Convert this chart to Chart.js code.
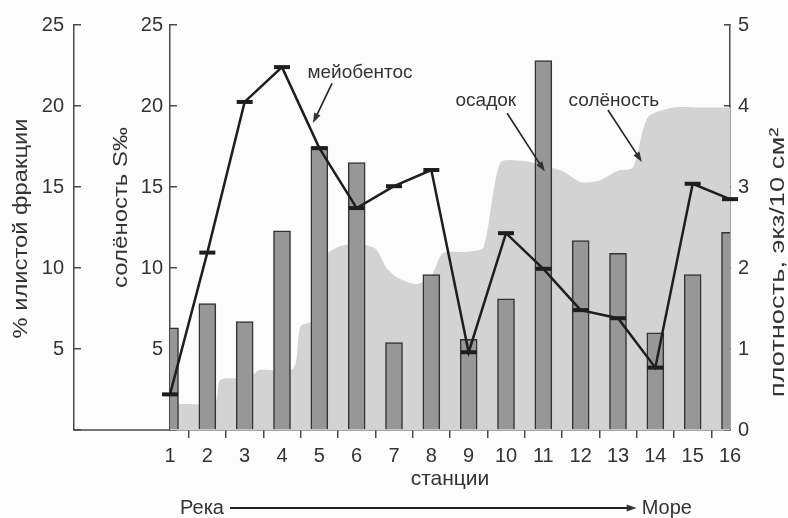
<!DOCTYPE html>
<html>
<head>
<meta charset="utf-8">
<script src="https://cdn.jsdelivr.net/npm/chart.js@4.4.1/dist/chart.umd.min.js"></script>
<style>
  html, body { margin: 0; padding: 0; background: #fcfcfc; }
  #wrap { width: 788px; height: 518px; }
</style>
</head>
<body>
<div id="wrap"><canvas id="c" width="788" height="518"></canvas></div>
<script>
// Станции по профилю река → море
const stations = [1, 2, 3, 4, 5, 6, 7, 8, 9, 10, 11, 12, 13, 14, 15, 16];
// Доля илистой фракции в осадке, %
const siltPercent = [6.3, 7.8, 6.7, 12.3, 17.5, 16.5, 5.4, 9.6, 5.6, 8.1, 22.8, 11.7, 10.9, 6.0, 9.6, 12.2];
// Плотность мейобентоса, экз/10 см²
const meiobenthos = [0.44, 2.19, 4.05, 4.48, 3.48, 2.74, 3.01, 3.21, 0.96, 2.43, 1.99, 1.48, 1.38, 0.77, 3.04, 2.85];
// Профиль солёности (положение вдоль разреза и S‰)
const salinityAt = [1.0, 1.3, 2.2, 2.35, 3.1, 3.4, 4.3, 4.5, 4.9, 5.05, 5.5, 6.0, 6.5, 6.8, 7.1, 7.6, 8.0, 8.3, 9.0, 9.4, 9.85, 10.5, 11.0, 11.5, 12.0, 12.5, 13.0, 13.4, 13.8, 14.5, 15.2, 16.0];
const salinity   = [1.5, 1.6, 1.7, 3.1, 3.2, 3.7, 3.8, 6.4, 6.8, 10.5, 11.3, 11.5, 11.2, 10.0, 9.4, 9.0, 9.5, 10.9, 11.0, 11.3, 16.5, 16.6, 16.3, 16.0, 15.3, 15.4, 16.0, 16.2, 19.3, 19.9, 19.9, 19.9];
// Деления осей
const leftTicks = [0, 5, 10, 15, 20, 25];
const densityTicks = [0, 1, 2, 3, 4, 5];

const ink = '#333333';
const axisInk = '#4a4a4a';
const FONT = 'Liberation Sans, Arial, sans-serif';
const xTickFont = { family: FONT, size: 20 };
const yTickFont = { family: FONT, size: 20, lineHeight: 0.8 };
const titleFont = { family: FONT, size: 21 };
const noteFont = '19px ' + FONT;

Chart.defaults.font.family = FONT;
Chart.defaults.color = ink;

function xy(xs, ys) { return xs.map((x, i) => ({ x: x, y: ys[i] })); }
function setTicks(values) { return s => { s.ticks = values.map(v => ({ value: v })); }; }

function arrow(ctx, x1, y1, x2, y2) {
  const a = Math.atan2(y2 - y1, x2 - x1);
  ctx.beginPath();
  ctx.moveTo(x1, y1);
  ctx.lineTo(x2 - 6 * Math.cos(a), y2 - 6 * Math.sin(a));
  ctx.stroke();
  ctx.beginPath();
  ctx.moveTo(x2, y2);
  ctx.lineTo(x2 - 10 * Math.cos(a) + 3.5 * Math.sin(a), y2 - 10 * Math.sin(a) - 3.5 * Math.cos(a));
  ctx.lineTo(x2 - 10 * Math.cos(a) - 3.5 * Math.sin(a), y2 - 10 * Math.sin(a) + 3.5 * Math.cos(a));
  ctx.closePath();
  ctx.fill();
}

// Вертикальная подпись оси (читается снизу вверх), слегка растянутая по длине
function verticalTitle(ctx, text, cx, cy, stretch) {
  ctx.save();
  ctx.fillStyle = ink;
  ctx.font = titleFont.size + 'px ' + FONT;
  ctx.textAlign = 'center';
  ctx.textBaseline = 'middle';
  ctx.translate(cx, cy);
  ctx.rotate(-Math.PI / 2);
  ctx.scale(stretch, 1);
  ctx.fillText(text, 0, 0);
  ctx.restore();
}

// Подписи серий со стрелками (в единицах оси станций и оси плотности)
const notes = [
  { text: 'мейобентос', at: [6.09, 4.41], from: [5.34, 4.28], to: [4.83, 3.79] },
  { text: 'осадок',     at: [9.46, 4.07], from: [10.03, 3.91], to: [11.04, 3.19] },
  { text: 'солёность',  at: [12.89, 4.07], from: [12.73, 3.95], to: [13.64, 3.31] }
];

const decor = {
  id: 'decor',
  beforeDraw(chart) {
    const ctx = chart.ctx;
    ctx.save();
    ctx.fillStyle = '#fcfcfc';
    ctx.fillRect(0, 0, chart.width, chart.height);
    ctx.restore();
  },
  afterDraw(chart) {
    const { ctx, scales } = chart;
    const x = scales.x, y1 = scales.y1, y2 = scales.y2, yD = scales.y3;
    const mid = (yD.top + yD.bottom) / 2;
    ctx.save();
    // базовая линия под левыми осями
    ctx.strokeStyle = axisInk;
    ctx.lineWidth = 1.5;
    ctx.beginPath();
    ctx.moveTo(y1.right, x.top);
    ctx.lineTo(chart.chartArea.left, x.top);
    ctx.stroke();
    ctx.restore();

    // заголовки осей
    verticalTitle(ctx, '% илистой фракции', y1.left + 21, mid + 1, 1.13);
    verticalTitle(ctx, 'солёность S‰', y2.left + 47, mid - 20, 1.14);
    verticalTitle(ctx, 'плотность, экз/10 см²', yD.left + 48, mid + 35, 1.3);

    // подписи серий
    ctx.save();
    ctx.fillStyle = ink;
    ctx.strokeStyle = '#222';
    ctx.lineWidth = 1.6;
    ctx.font = noteFont;
    ctx.textAlign = 'center';
    ctx.textBaseline = 'middle';
    notes.forEach(n => {
      ctx.fillText(n.text, x.getPixelForValue(n.at[0]), yD.getPixelForValue(n.at[1]));
      arrow(ctx, x.getPixelForValue(n.from[0]), yD.getPixelForValue(n.from[1]),
                 x.getPixelForValue(n.to[0]), yD.getPixelForValue(n.to[1]));
    });

    // направление река → море
    const yArrow = chart.height - 10;
    ctx.font = '20px ' + FONT;
    ctx.textAlign = 'left';
    const rLeft = x.getPixelForValue(1.27);
    ctx.fillText('Река', rLeft, yArrow);
    const startX = rLeft + ctx.measureText('Река').width + 6;
    const endX = x.getPixelForValue(13.5);
    ctx.lineWidth = 2;
    arrow(ctx, startX, yArrow, endX, yArrow);
    ctx.fillText('Море', endX + 5, yArrow);
    ctx.restore();
  }
};

new Chart(document.getElementById('c'), {
  type: 'bar',
  data: {
    datasets: [
      {
        type: 'line',
        label: 'мейобентос',
        data: xy(stations, meiobenthos),
        xAxisID: 'x', yAxisID: 'y3',
        borderColor: '#1e1e1e',
        borderWidth: 2.5,
        pointStyle: 'line',
        pointRadius: 8,
        pointBorderWidth: 4,
        pointBorderColor: '#1e1e1e',
        pointBackgroundColor: '#1e1e1e',
        tension: 0,
        clip: false,
        order: 1
      },
      {
        type: 'bar',
        label: 'осадок',
        data: xy(stations, siltPercent),
        xAxisID: 'x', yAxisID: 'y1',
        backgroundColor: '#979797',
        borderColor: '#333333',
        borderWidth: 1.5,
        barThickness: 17,
        clip: 0,
        order: 2
      },
      {
        type: 'line',
        label: 'солёность',
        data: xy(salinityAt, salinity),
        xAxisID: 'x', yAxisID: 'y2',
        backgroundColor: '#d3d3d3',
        borderWidth: 0,
        borderColor: 'rgba(0,0,0,0)',
        pointRadius: 0,
        fill: 'origin',
        tension: 0.25,
        clip: 0,
        order: 3
      }
    ]
  },
  options: {
    responsive: false,
    animation: false,
    devicePixelRatio: 1,
    layout: { padding: { top: 25, bottom: 26, left: 0, right: 0 } },
    plugins: { legend: { display: false }, tooltip: { enabled: false } },
    scales: {
      x: {
        type: 'linear', position: 'bottom', min: 1, max: 16, offset: false,
        afterBuildTicks: setTicks(stations),
        border: { display: true, color: axisInk, width: 1.5 },
        grid: { display: true, drawOnChartArea: false, drawTicks: true, tickLength: 8, color: axisInk, lineWidth: 1.5 },
        ticks: { font: xTickFont, color: ink, padding: 6, autoSkip: false, maxRotation: 0 },
        title: { display: true, text: 'станции', font: titleFont, color: ink, padding: { top: 0, bottom: 0 } },
        afterFit: s => { s.height = 62; }
      },
      y1: {
        type: 'linear', position: 'left', weight: 2, min: 0, max: 25,
        afterBuildTicks: setTicks(leftTicks),
        border: { display: true, color: axisInk, width: 1.5 },
        grid: { display: true, drawOnChartArea: false, drawTicks: true, tickLength: -7, color: axisInk, lineWidth: 1.5 },
        ticks: { font: yTickFont, color: ink, padding: 17, callback: v => (v === 0 ? '' : v) },
        title: { display: false },
        afterFit: s => { s.width = 74; }
      },
      y2: {
        type: 'linear', position: 'left', weight: 1, min: 0, max: 25,
        afterBuildTicks: setTicks(leftTicks),
        border: { display: true, color: axisInk, width: 1.5 },
        grid: { display: true, drawOnChartArea: false, drawTicks: true, tickLength: -7, color: axisInk, lineWidth: 1.5 },
        ticks: { font: yTickFont, color: ink, padding: 14, callback: v => (v === 0 ? '' : v) },
        title: { display: false },
        afterFit: s => { s.width = 96; }
      },
      y3: {
        type: 'linear', position: 'right', min: 0, max: 5,
        afterBuildTicks: setTicks(densityTicks),
        border: { display: true, color: axisInk, width: 1.5 },
        grid: { display: true, drawOnChartArea: false, drawTicks: true, tickLength: -6, color: axisInk, lineWidth: 1.5 },
        ticks: { font: yTickFont, color: ink, padding: 14 },
        title: { display: false },
        afterFit: s => { s.width = 58; }
      }
    }
  },
  plugins: [decor]
});
</script>
</body>
</html>
